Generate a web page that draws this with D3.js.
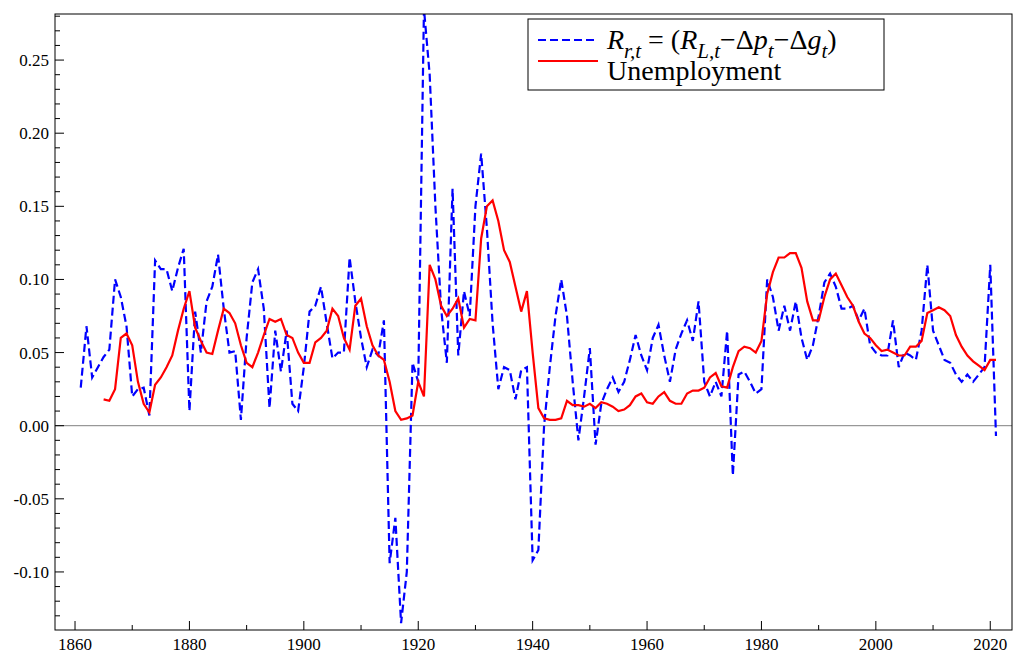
<!DOCTYPE html>
<html><head><meta charset="utf-8">
<script src="https://cdn.jsdelivr.net/npm/d3@7"></script>
<style>body{margin:0;background:#fff}text{font-family:"Liberation Serif","DejaVu Serif",serif}</style>
</head><body>
<script>
// real rate series, 1861-2021
var rYears = d3.range(1861, 2022);
var rVals = [0.026,0.068,0.033,0.040,0.047,0.052,0.100,0.088,0.068,0.020,
0.025,0.026,0.007,0.113,0.107,0.107,0.092,0.108,0.121,0.010,
0.078,0.050,0.085,0.095,0.117,0.080,0.050,0.051,0.004,0.060,
0.098,0.107,0.080,0.012,0.065,0.037,0.065,0.015,0.010,0.040,
0.078,0.082,0.095,0.070,0.046,0.050,0.050,0.115,0.085,0.060,
0.040,0.052,0.048,0.072,-0.094,-0.063,-0.135,-0.100,0.043,0.030,
0.285,0.240,0.150,0.080,0.043,0.162,0.048,0.092,0.075,0.150,
0.186,0.135,0.070,0.025,0.040,0.038,0.018,0.038,0.040,-0.092,
-0.085,0.000,0.040,0.075,0.100,0.075,0.030,-0.010,0.020,0.053,
-0.013,0.015,0.025,0.033,0.023,0.030,0.045,0.062,0.048,0.038,
0.060,0.069,0.048,0.030,0.052,0.063,0.072,0.058,0.085,0.030,
0.020,0.030,0.020,0.065,-0.034,0.035,0.037,0.030,0.022,0.025,
0.100,0.088,0.065,0.082,0.065,0.085,0.060,0.045,0.055,0.075,
0.098,0.104,0.095,0.080,0.080,0.082,0.072,0.080,0.055,0.050,
0.048,0.048,0.072,0.040,0.050,0.048,0.045,0.065,0.110,0.065,
0.055,0.045,0.043,0.035,0.030,0.035,0.030,0.035,0.040,0.110,
-0.007];
// unemployment, 1865-2021
var uYears = d3.range(1865, 2022);
var uVals = [0.018,0.017,0.025,0.060,0.063,0.055,0.030,0.015,0.009,0.028,
0.033,0.040,0.048,0.065,0.080,0.092,0.067,0.058,0.050,0.049,
0.065,0.080,0.077,0.070,0.055,0.043,0.040,0.050,0.062,0.073,
0.071,0.073,0.062,0.060,0.050,0.043,0.043,0.057,0.060,0.065,
0.080,0.075,0.060,0.052,0.082,0.087,0.068,0.055,0.048,0.045,
0.030,0.010,0.004,0.005,0.007,0.030,0.020,0.110,0.100,0.082,
0.075,0.080,0.087,0.067,0.073,0.072,0.128,0.150,0.154,0.140,
0.120,0.112,0.095,0.078,0.092,0.050,0.012,0.005,0.004,0.004,
0.005,0.017,0.014,0.014,0.013,0.015,0.012,0.016,0.015,0.013,
0.010,0.011,0.014,0.020,0.022,0.016,0.015,0.020,0.023,0.017,
0.015,0.015,0.022,0.024,0.024,0.026,0.033,0.036,0.027,0.026,
0.040,0.051,0.054,0.053,0.050,0.058,0.090,0.105,0.115,0.115,
0.118,0.118,0.108,0.085,0.072,0.072,0.088,0.100,0.104,0.096,
0.088,0.082,0.071,0.063,0.060,0.055,0.051,0.052,0.050,0.048,
0.048,0.054,0.054,0.058,0.077,0.079,0.081,0.079,0.075,0.062,
0.054,0.048,0.044,0.041,0.038,0.045,0.045];
var xTickLabels = [1860,1880,1900,1920,1940,1960,1980,2000,2020];
var yTickLabels = [-0.10,-0.05,0.00,0.05,0.10,0.15,0.20,0.25];

var W = 1013, H = 655, L = 55, R = 1012, T = 14, B = 630;
var svg = d3.select("body").append("svg").attr("width", W).attr("height", H);
var x = d3.scaleLinear().domain([1856.5, 2023.8]).range([L, R]);
var y = d3.scaleLinear().domain([-0.1397, 0.2815]).range([B, T]);

var clip = svg.append("clipPath").attr("id", "c").append("rect")
  .attr("x", L).attr("y", T).attr("width", R - L).attr("height", B - T);

svg.append("line").attr("x1", L).attr("x2", R).attr("y1", y(0)).attr("y2", y(0))
  .attr("stroke", "#808080").attr("stroke-width", 1);

// ticks: minor every 0.01 / 10 years, major labelled
var yMinor = d3.range(-13, 29).map(function (d) { return d / 100; });
svg.selectAll(".ym").data(yMinor).enter().append("line")
  .attr("x1", L).attr("x2", function (d, i) { return Math.round(d * 100) % 5 == 0 ? L + 9 : L + 5; })
  .attr("y1", function (d) { return y(d); }).attr("y2", function (d) { return y(d); })
  .attr("stroke", "#000");
svg.selectAll(".yl").data(yTickLabels).enter().append("text")
  .attr("x", L - 6).attr("y", function (d) { return y(d) + 6; })
  .attr("text-anchor", "end").attr("font-size", 17).text(function (d) { return d.toFixed(2); });
var xMinor = d3.range(1860, 2021, 10);
svg.selectAll(".xm").data(xMinor).enter().append("line")
  .attr("x1", function (d) { return x(d); }).attr("x2", function (d) { return x(d); })
  .attr("y1", B).attr("y2", function (d) { return d % 20 == 0 ? B - 9 : B - 5; })
  .attr("stroke", "#000");
svg.selectAll(".xl").data(xTickLabels).enter().append("text")
  .attr("x", function (d) { return x(d); }).attr("y", B + 20)
  .attr("text-anchor", "middle").attr("font-size", 17).text(function (d) { return d; });

var line = d3.line().x(function (d) { return x(d[0]); }).y(function (d) { return y(d[1]); });
var g = svg.append("g").attr("clip-path", "url(#c)");
g.append("path").datum(d3.zip(rYears, rVals)).attr("d", line)
  .attr("fill", "none").attr("stroke", "#0000ff").attr("stroke-width", 2.2).attr("stroke-dasharray", "8,4");
g.append("path").datum(d3.zip(uYears, uVals)).attr("d", line)
  .attr("fill", "none").attr("stroke", "#ff0000").attr("stroke-width", 2.2);

svg.append("rect").attr("x", L).attr("y", T).attr("width", R - L).attr("height", B - T)
  .attr("fill", "none").attr("stroke", "#000");

// legend
var lg = svg.append("g");
lg.append("rect").attr("x", 528).attr("y", 19).attr("width", 356).attr("height", 71)
  .attr("fill", "#fff").attr("stroke", "#000");
lg.append("line").attr("x1", 538).attr("x2", 598).attr("y1", 40).attr("y2", 40)
  .attr("stroke", "#0000ff").attr("stroke-width", 2.2).attr("stroke-dasharray", "8,4");
lg.append("line").attr("x1", 538).attr("x2", 598).attr("y1", 61).attr("y2", 61)
  .attr("stroke", "#ff0000").attr("stroke-width", 2.2);
var t = lg.append("text").attr("x", 607).attr("y", 49).attr("font-size", 28);
t.append("tspan").attr("font-style", "italic").text("R");
t.append("tspan").attr("font-style", "italic").attr("font-size", 21).attr("dy", 9).text("r,t");
t.append("tspan").attr("dy", -9).text(" = (");
t.append("tspan").attr("font-style", "italic").text("R");
t.append("tspan").attr("font-style", "italic").attr("font-size", 21).attr("dy", 9).text("L,t");
t.append("tspan").attr("dy", -9).text("\u2212\u0394");
t.append("tspan").attr("font-style", "italic").text("p");
t.append("tspan").attr("font-style", "italic").attr("font-size", 21).attr("dy", 9).text("t");
t.append("tspan").attr("dy", -9).text("\u2212\u0394");
t.append("tspan").attr("font-style", "italic").text("g");
t.append("tspan").attr("font-style", "italic").attr("font-size", 21).attr("dy", 9).text("t");
t.append("tspan").attr("dy", -9).text(")");
lg.append("text").attr("x", 607).attr("y", 80).attr("font-size", 28).text("Unemployment");
</script>
</body></html>
